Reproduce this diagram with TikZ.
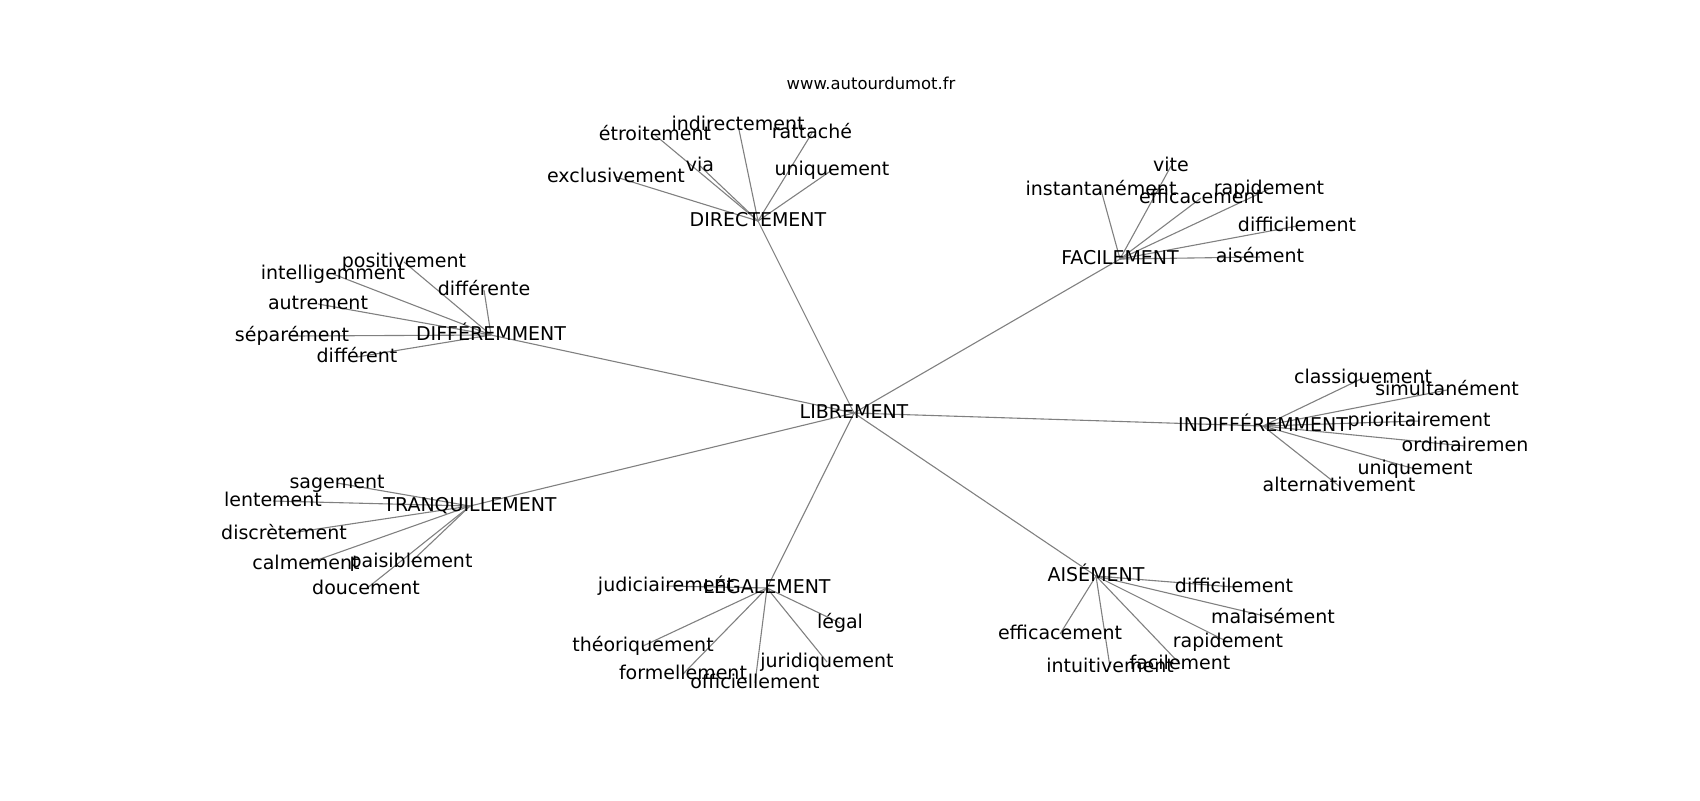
\documentclass[tikz,border=0pt]{standalone}
\usepackage{fontspec}
\setmainfont{DejaVu Sans}
\usetikzlibrary{backgrounds}

\begin{document}
\begin{tikzpicture}[x=0.5pt,y=0.5pt,yscale=-1,xscale=1,
  word/.style={inner sep=0pt,text height=0.73em,text depth=0.23em,font=\fontsize{9.5}{11}\selectfont},
  site/.style={inner sep=0pt,font=\fontsize{8.2}{10}\selectfont},
  link/.style={draw={rgb,255:red,128;green,128;blue,128},line width=0.55pt}]
\useasboundingbox (0,0) rectangle (1700,800);

% Title
\node[site] (site) at (871,83) {www.autourdumot.fr};

% Centre and hubs
\node[word] (libre) at (854,413) {LIBREMENT};
\node[word] (direct) at (758,221) {DIRECTEMENT};
\node[word] (facile) at (1120,259) {FACILEMENT};
\node[word] (differ) at (491,335) {DIFFÉREMMENT};
\node[word] (indiff) at (1263,426) {INDIFFÉREMMENT};
\node[word] (tranq) at (470,506) {TRANQUILLEMENT};
\node[word] (legal) at (767,588) {LÉGALEMENT};
\node[word] (aise) at (1096,576) {AISÉMENT};

% DIRECTEMENT words
\node[word] (exclusiv) at (616,177) {exclusivement};
\node[word] (etroit) at (655,135) {étroitement};
\node[word] (via) at (700,166) {via};
\node[word] (indirect) at (738,125) {indirectement};
\node[word] (rattache) at (812,133) {rattaché};
\node[word] (uniqdir) at (832,170) {uniquement};

% FACILEMENT words
\node[word] (vite) at (1171,166) {vite};
\node[word] (instant) at (1101,190) {instantanément};
\node[word] (efficfac) at (1201,198) {efficacement};
\node[word] (rapidfac) at (1269,189) {rapidement};
\node[word] (difficfac) at (1297,226) {difficilement};
\node[word] (aisefac) at (1260,257) {aisément};

% DIFFÉREMMENT words
\node[word] (positiv) at (404,262) {positivement};
\node[word] (intellig) at (333,274) {intelligemment};
\node[word] (differente) at (484,290) {différente};
\node[word] (autrement) at (318,304) {autrement};
\node[word] (separ) at (292,336) {séparément};
\node[word] (different) at (357,357) {différent};

% INDIFFÉREMMENT words
\node[word] (classiq) at (1363,378) {classiquement};
\node[word] (simultan) at (1447,390) {simultanément};
\node[word] (priorit) at (1419,421) {prioritairement};
\node[word] (ordinair) at (1465,446) {ordinairemen};
\node[word] (uniqind) at (1415,469) {uniquement};
\node[word] (alternat) at (1339,486) {alternativement};

% TRANQUILLEMENT words
\node[word] (sagement) at (337,483) {sagement};
\node[word] (lentement) at (273,501) {lentement};
\node[word] (discret) at (284,534) {discrètement};
\node[word] (calmement) at (306,564) {calmement};
\node[word] (paisibl) at (411,562) {paisiblement};
\node[word] (doucement) at (366,589) {doucement};

% LÉGALEMENT words
\node[word] (judiciair) at (666,586) {judiciairement};
\node[word] (theoriq) at (643,646) {théoriquement};
\node[word] (legalw) at (840,623) {légal};
\node[word] (formell) at (683,674) {formellement};
\node[word] (officiell) at (755,683) {officiellement};
\node[word] (juridiq) at (827,662) {juridiquement};

% AISÉMENT words
\node[word] (difficais) at (1234,587) {difficilement};
\node[word] (malaise) at (1273,618) {malaisément};
\node[word] (rapidais) at (1228,642) {rapidement};
\node[word] (facilew) at (1180,664) {facilement};
\node[word] (intuitiv) at (1110,667) {intuitivement};
\node[word] (efficais) at (1060,634) {efficacement};

\begin{scope}[on background layer]
% Centre to hubs
\draw[link] (libre.center) -- (direct.center);
\draw[link] (libre.center) -- (facile.center);
\draw[link] (libre.center) -- (differ.center);
\draw[link] (libre.center) -- (indiff.center);
\draw[link] (libre.center) -- (tranq.center);
\draw[link] (libre.center) -- (legal.center);
\draw[link] (libre.center) -- (aise.center);
% DIRECTEMENT
\draw[link] (direct.center) -- (exclusiv.center);
\draw[link] (direct.center) -- (etroit.center);
\draw[link] (direct.center) -- (via.center);
\draw[link] (direct.center) -- (indirect.center);
\draw[link] (direct.center) -- (rattache.center);
\draw[link] (direct.center) -- (uniqdir.center);
% FACILEMENT
\draw[link] (facile.center) -- (vite.center);
\draw[link] (facile.center) -- (instant.center);
\draw[link] (facile.center) -- (efficfac.center);
\draw[link] (facile.center) -- (rapidfac.center);
\draw[link] (facile.center) -- (difficfac.center);
\draw[link] (facile.center) -- (aisefac.center);
% DIFFÉREMMENT
\draw[link] (differ.center) -- (positiv.center);
\draw[link] (differ.center) -- (intellig.center);
\draw[link] (differ.center) -- (differente.center);
\draw[link] (differ.center) -- (autrement.center);
\draw[link] (differ.center) -- (separ.center);
\draw[link] (differ.center) -- (different.center);
% INDIFFÉREMMENT
\draw[link] (indiff.center) -- (classiq.center);
\draw[link] (indiff.center) -- (simultan.center);
\draw[link] (indiff.center) -- (priorit.center);
\draw[link] (indiff.center) -- (ordinair.center);
\draw[link] (indiff.center) -- (uniqind.center);
\draw[link] (indiff.center) -- (alternat.center);
% TRANQUILLEMENT
\draw[link] (tranq.center) -- (sagement.center);
\draw[link] (tranq.center) -- (lentement.center);
\draw[link] (tranq.center) -- (discret.center);
\draw[link] (tranq.center) -- (calmement.center);
\draw[link] (tranq.center) -- (paisibl.center);
\draw[link] (tranq.center) -- (doucement.center);
% LÉGALEMENT
\draw[link] (legal.center) -- (judiciair.center);
\draw[link] (legal.center) -- (theoriq.center);
\draw[link] (legal.center) -- (legalw.center);
\draw[link] (legal.center) -- (formell.center);
\draw[link] (legal.center) -- (officiell.center);
\draw[link] (legal.center) -- (juridiq.center);
% AISÉMENT
\draw[link] (aise.center) -- (difficais.center);
\draw[link] (aise.center) -- (malaise.center);
\draw[link] (aise.center) -- (rapidais.center);
\draw[link] (aise.center) -- (facilew.center);
\draw[link] (aise.center) -- (intuitiv.center);
\draw[link] (aise.center) -- (efficais.center);
\end{scope}

\end{tikzpicture}
\end{document}
